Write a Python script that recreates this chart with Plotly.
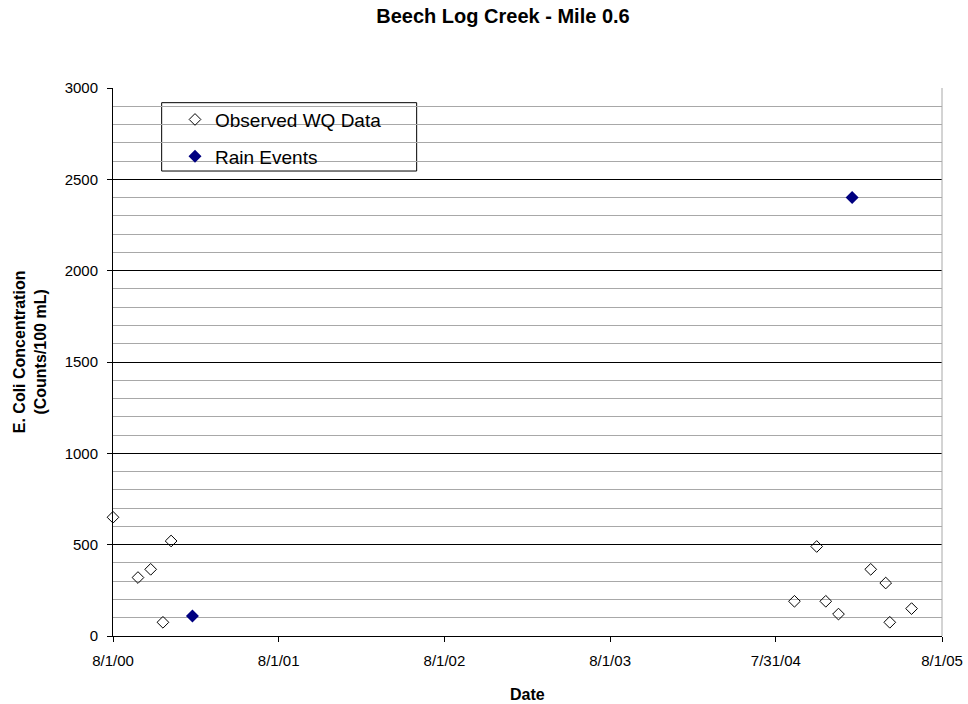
import plotly.graph_objects as go

# Data
obs_dates = ["2000-08-01", "2000-09-25", "2000-10-23", "2000-11-19", "2000-12-07",
             "2004-09-10", "2004-10-29", "2004-11-18", "2004-12-16",
             "2005-02-25", "2005-03-30", "2005-04-08", "2005-05-26"]
obs_vals = [650, 320, 365, 75, 520, 190, 490, 190, 120, 365, 290, 75, 150]

rain_dates = ["2001-01-23", "2005-01-15"]
rain_vals = [110, 2400]

tick_dates = ["2000-08-01", "2001-08-01", "2002-08-01", "2003-08-01", "2004-07-31", "2005-08-01"]
tick_labels = ["8/1/00", "8/1/01", "8/1/02", "8/1/03", "7/31/04", "8/1/05"]

FONT = "Liberation Sans, Arial, sans-serif"

fig = go.Figure()
fig.add_trace(go.Scatter(
    x=obs_dates, y=obs_vals, mode="markers", name="Observed WQ Data",
    legendgroup="a",
    marker=dict(symbol="diamond-open", size=9, color="black", line=dict(width=1, color="black")),
    cliponaxis=False,
))
fig.add_trace(go.Scatter(
    x=rain_dates, y=rain_vals, mode="markers", name="Rain Events",
    legendgroup="b",
    marker=dict(symbol="diamond", size=10, color="#000080", line=dict(width=0)),
    cliponaxis=False,
))

fig.update_layout(
    width=968, height=704,
    margin=dict(l=113, r=26, t=88, b=68),
    paper_bgcolor="white", plot_bgcolor="white",
    font=dict(family=FONT, size=15, color="black"),
    title=dict(text="<b>Beech Log Creek - Mile 0.6</b>", x=503/968, xanchor="center",
               xref="container", y=1 - 16/704, yanchor="middle", yref="container",
               font=dict(size=20, family=FONT)),
    showlegend=True,
    legend=dict(x=0.0748, xanchor="left", y=0.977, yanchor="top",
                bgcolor="rgba(0,0,0,0)", borderwidth=0, font=dict(size=19, family=FONT),
                tracegroupgap=9),
    xaxis=dict(
        type="date", range=["2000-08-01", "2005-08-01"],
        tickmode="array", tickvals=tick_dates, ticktext=tick_labels,
        showgrid=False, showline=True, linecolor="black", linewidth=1,
        ticks="outside", ticklen=5, tickcolor="black", zeroline=False,
        ticklabelstandoff=6, automargin=False,
    ),
    yaxis=dict(
        range=[0, 3000], dtick=500, tick0=0,
        showgrid=True, gridcolor="black", gridwidth=1,
        minor=dict(dtick=100, showgrid=True, gridcolor="#a8a8a8", gridwidth=1),
        showline=True, linecolor="black", linewidth=1,
        ticks="outside", ticklen=5, tickcolor="black", zeroline=False,
        ticklabelstandoff=6, automargin=False,
    ),
    annotations=[
        dict(text="<b>E. Coli Concentration<br>(Counts/100 mL)</b>", xref="paper", yref="paper",
             x=-0.1, y=0.518, xanchor="center", yanchor="middle", textangle=-90,
             showarrow=False, font=dict(size=16, family=FONT)),
        dict(text="<b>Date</b>", xref="paper", yref="paper", x=0.5, y=-0.106,
             xanchor="center", yanchor="middle", showarrow=False, font=dict(size=16, family=FONT)),
    ],
    shapes=[
        dict(type="line", xref="paper", yref="paper", x0=1, x1=1, y0=0, y1=1,
             line=dict(color="#a8a8a8", width=1)),
        dict(type="rect", xref="paper", yref="paper", x0=0.0587, x1=0.3663, y0=0.8485, y1=0.9732,
             line=dict(color="black", width=1), fillcolor="white", layer="below"),
    ],
)

fig.write_html("out.html", config={"displayModeBar": False},
               post_script="document.body.style.margin='0px';")
